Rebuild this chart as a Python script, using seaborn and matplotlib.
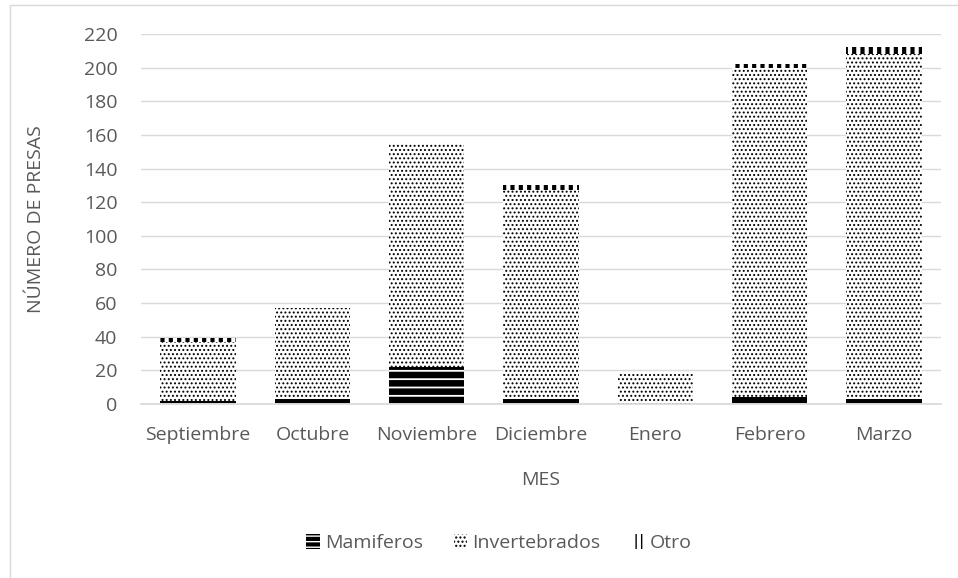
import numpy as np
import pandas as pd
import matplotlib as mpl
import matplotlib.pyplot as plt
import seaborn as sns
from matplotlib.patches import Patch, Rectangle

meses = ["Septiembre", "Octubre", "Noviembre", "Diciembre", "Enero", "Febrero", "Marzo"]
mamiferos = [2, 3, 22, 3, 0, 4, 3]
invertebrados = [35, 54, 133, 124, 18, 196, 205]
otro = [2, 0, 0, 3, 0, 2, 4]

df = pd.DataFrame({
    "Mes": meses,
    "Mamiferos": mamiferos,
    "Invertebrados": invertebrados,
    "Otro": otro
})

sns.set_theme(style="white")
plt.rcParams["font.family"] = ["Open Sans", "DejaVu Sans"]
gray = "#595959"
fs = 14

fig = plt.figure(figsize=(9.58, 5.78), dpi=100)
ax = fig.add_axes([141 / 958, 1 - 404 / 578, 800 / 958, 370 / 578])

# name, face, hatch colour, hatch, hatch line width
series = [
    ("Mamiferos", "black", "white", "--", 1.3),
    ("Invertebrados", "white", "black", "....", 0.9),
    ("Otro", "white", "black", "||", 3.0),
]
bottom = np.zeros(len(meses))
for name, face, edge, hatch, hlw in series:
    with mpl.rc_context({"hatch.linewidth": hlw}):
        sns.barplot(data=df, x="Mes", y=name, bottom=bottom, color=face,
                    width=0.66, ax=ax, linewidth=0)
        for p in ax.patches[-len(meses):]:
            p.set_facecolor(face)
            p.set_edgecolor(edge)
            p.set_hatch(hatch)
            p.set_linewidth(0)
            if hasattr(p, "set_hatch_linewidth"):
                p.set_hatch_linewidth(hlw)
    bottom = bottom + df[name].values

ax.set_ylim(0, 220)
ax.set_yticks(range(0, 221, 20))
ax.set_xlim(-0.5, len(meses) - 0.5)
ax.yaxis.grid(True, color="#d9d9d9", linewidth=1)
ax.set_axisbelow(True)
for s in ["top", "right", "left"]:
    ax.spines[s].set_visible(False)
ax.spines["bottom"].set_color("#d9d9d9")
ax.tick_params(axis="both", colors=gray, labelsize=fs, length=0)
ax.tick_params(axis="y", pad=17)
ax.tick_params(axis="x", pad=16)
ax.set_xlabel("MES", color=gray, fontsize=fs, labelpad=19)
ax.set_ylabel("NÚMERO DE PRESAS", color=gray, fontsize=fs, labelpad=28)

# legend swatches: a bit denser so the pattern shows in a small square
legend_hatch = {"Mamiferos": ("---", 1.3), "Invertebrados": ("....", 0.9),
                "Otro": ("|||", 2.6)}
handles = []
for n, f, e, h, hlw in series:
    lh, llw = legend_hatch[n]
    with mpl.rc_context({"hatch.linewidth": llw}):
        handles.append(Patch(facecolor=f, edgecolor=e, hatch=lh,
                             linewidth=0, label=n))
fig.legend(handles=handles, loc="center", bbox_to_anchor=(0.521, 1 - 543 / 578),
           ncol=3, frameon=False, fontsize=fs, handlelength=0.7,
           handleheight=0.8, handletextpad=0.25, columnspacing=1.6,
           labelcolor=gray)

fig.patches.append(Rectangle((10 / 958, -0.1), 1.2, 1 - 5 / 578 + 0.1,
                             transform=fig.transFigure, fill=False,
                             edgecolor="#d9d9d9", linewidth=1))

fig.savefig("out.png", dpi=100)
